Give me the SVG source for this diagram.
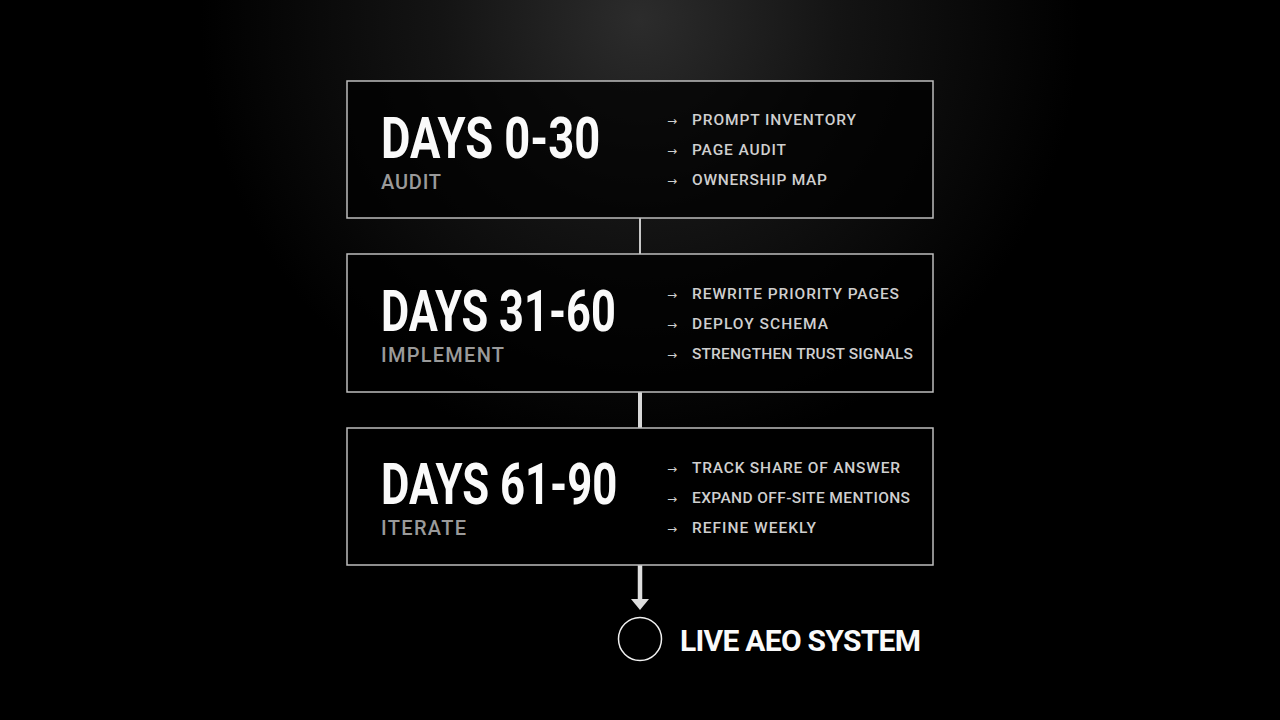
<svg xmlns="http://www.w3.org/2000/svg" width="1280" height="720" viewBox="0 0 1280 720">
<defs>
<radialGradient id="bg" cx="640" cy="20" r="440" gradientUnits="userSpaceOnUse">
<stop offset="0" stop-color="#2c2c2c"/>
<stop offset="0.45" stop-color="#141414"/>
<stop offset="1" stop-color="#000"/>
</radialGradient>
<style>
.box{fill:#000;fill-opacity:0.72;stroke:#bdbdbd;stroke-width:1.5}
.title{font-family:Roboto,"DejaVu Sans Condensed",sans-serif;font-weight:700;font-size:57px;fill:#fafafa}
.sub{font-family:Roboto,"DejaVu Sans",sans-serif;font-weight:500;font-size:20px;fill:#9a9a9a}
.item{font-family:Roboto,"DejaVu Sans",sans-serif;font-weight:500;font-size:15.5px;fill:#cfcfcf}
.arr{font-family:"DejaVu Sans",sans-serif;font-size:12px}
.end{font-family:Roboto,"DejaVu Sans",sans-serif;font-weight:700;font-size:30px;fill:#fafafa}
</style>
</defs>
<rect width="1280" height="720" fill="url(#bg)"/>
<g id="connectors">
<line x1="640" y1="218" x2="640" y2="254" stroke="#c8c8c8" stroke-width="2"/>
<line x1="640" y1="392" x2="640" y2="428" stroke="#d8d8d8" stroke-width="4"/>
<line x1="640" y1="565" x2="640" y2="600" stroke="#dedede" stroke-width="4.5"/>
<polygon points="631,599 649,599 640,610" fill="#dedede"/>
</g>
<g id="phase1">
<rect class="box" x="347" y="81" width="586" height="137"/>
<text class="title" transform="translate(381,158) scale(0.78,1)" x="0" y="0" textLength="281" lengthAdjust="spacingAndGlyphs">DAYS 0-30</text>
<text class="sub" x="381" y="189" textLength="60" lengthAdjust="spacing">AUDIT</text>
<text class="item" y="125"><tspan class="arr" x="667">→</tspan><tspan x="692" textLength="164" lengthAdjust="spacing">PROMPT INVENTORY</tspan></text>
<text class="item" y="155"><tspan class="arr" x="667">→</tspan><tspan x="692" textLength="94" lengthAdjust="spacing">PAGE AUDIT</tspan></text>
<text class="item" y="185"><tspan class="arr" x="667">→</tspan><tspan x="692" textLength="135" lengthAdjust="spacing">OWNERSHIP MAP</tspan></text>
</g>
<g id="phase2">
<rect class="box" x="347" y="254" width="586" height="138"/>
<text class="title" transform="translate(381,331) scale(0.78,1)" x="0" y="0" textLength="301" lengthAdjust="spacingAndGlyphs">DAYS 31-60</text>
<text class="sub" x="381" y="362" textLength="123" lengthAdjust="spacing">IMPLEMENT</text>
<text class="item" y="299"><tspan class="arr" x="667">→</tspan><tspan x="692" textLength="207" lengthAdjust="spacing">REWRITE PRIORITY PAGES</tspan></text>
<text class="item" y="329"><tspan class="arr" x="667">→</tspan><tspan x="692" textLength="136" lengthAdjust="spacing">DEPLOY SCHEMA</tspan></text>
<text class="item" y="359"><tspan class="arr" x="667">→</tspan><tspan x="692" textLength="221" lengthAdjust="spacing">STRENGTHEN TRUST SIGNALS</tspan></text>
</g>
<g id="phase3">
<rect class="box" x="347" y="428" width="586" height="137"/>
<text class="title" transform="translate(381,504) scale(0.78,1)" x="0" y="0" textLength="303" lengthAdjust="spacingAndGlyphs">DAYS 61-90</text>
<text class="sub" x="381" y="535" textLength="85" lengthAdjust="spacing">ITERATE</text>
<text class="item" y="473"><tspan class="arr" x="667">→</tspan><tspan x="692" textLength="208" lengthAdjust="spacing">TRACK SHARE OF ANSWER</tspan></text>
<text class="item" y="503"><tspan class="arr" x="667">→</tspan><tspan x="692" textLength="218" lengthAdjust="spacing">EXPAND OFF-SITE MENTIONS</tspan></text>
<text class="item" y="533"><tspan class="arr" x="667">→</tspan><tspan x="692" textLength="124" lengthAdjust="spacing">REFINE WEEKLY</tspan></text>
</g>
<g id="live">
<circle cx="640" cy="639" r="21.5" fill="#000" stroke="#f0f0f0" stroke-width="1.5"/>
<text class="end" x="680" y="651" textLength="241" lengthAdjust="spacing">LIVE AEO SYSTEM</text>
</g>
</svg>
